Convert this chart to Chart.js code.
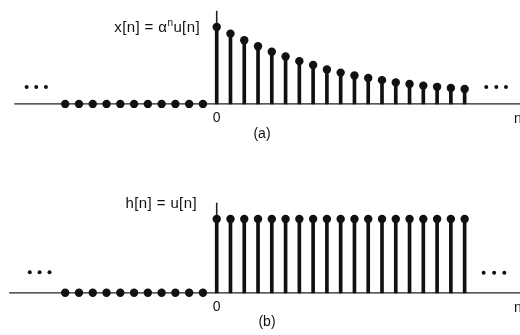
<!DOCTYPE html>
<html>
<head>
  <meta charset="UTF-8">
  <title>x[n] and h[n]</title>
  <script src="https://cdn.jsdelivr.net/npm/chart.js"></script>
  <style>
    body { margin: 0; background: #fff; }
    canvas { position: absolute; left: 0; }
    #chartA { top: 0; }
    #chartB { top: 167px; }
  </style>
  <script>
    // sample indices
    const nNeg = [-11, -10, -9, -8, -7, -6, -5, -4, -3, -2, -1];
    const nPos = [0, 1, 2, 3, 4, 5, 6, 7, 8, 9, 10, 11, 12, 13, 14, 15, 16, 17, 18];

    // x[n] = a^n u[n]
    const xValues = [1, 0.914, 0.827, 0.749, 0.679, 0.617, 0.556, 0.506, 0.448, 0.407,
                     0.370, 0.337, 0.309, 0.280, 0.259, 0.238, 0.222, 0.206, 0.194];
    // h[n] = u[n]
    const hValues = [1, 1, 1, 1, 1, 1, 1, 1, 1, 1, 1, 1, 1, 1, 1, 1, 1, 1, 1];
    const zeros = [0, 0, 0, 0, 0, 0, 0, 0, 0, 0, 0];

    const INK = '#111';
    const FONT = '"Liberation Sans", Arial, sans-serif';

    const annotate = {
      id: 'annotate',
      beforeDatasetsDraw(chart, args, o) {
        const ctx = chart.ctx;
        const xs = chart.scales.x, ys = chart.scales.y;
        const y0 = ys.getPixelForValue(0);
        const x0 = xs.getPixelForValue(0);
        ctx.save();
        ctx.strokeStyle = '#222';
        ctx.lineWidth = 1.2;
        ctx.beginPath();
        ctx.moveTo(xs.getPixelForValue(o.axisFrom), y0);
        ctx.lineTo(chart.width, y0);
        ctx.stroke();
        ctx.lineWidth = 1.6;
        ctx.beginPath();
        ctx.moveTo(x0, y0);
        ctx.lineTo(x0, ys.getPixelForValue(o.axisTop));
        ctx.stroke();
        ctx.restore();
      },
      afterDraw(chart, args, o) {
        const ctx = chart.ctx;
        const xs = chart.scales.x, ys = chart.scales.y;
        ctx.save();
        ctx.fillStyle = INK;

        // continuation dots on both ends
        o.ellipsis.forEach(([n, v]) => {
          ctx.beginPath();
          ctx.arc(xs.getPixelForValue(n), ys.getPixelForValue(v), 2, 0, Math.PI * 2);
          ctx.fill();
        });

        // formula label, right aligned, with superscript parts
        const main = '15px ' + FONT, sup = '10px ' + FONT;
        ctx.letterSpacing = '0.4px';
        let w = 0;
        o.label.forEach(([t, s]) => { ctx.font = s ? sup : main; w += ctx.measureText(t).width; });
        let x = o.labelRight - w;
        ctx.textBaseline = 'alphabetic';
        ctx.textAlign = 'left';
        o.label.forEach(([t, s]) => {
          ctx.font = s ? sup : main;
          ctx.fillText(t, x, o.labelY - (s ? 6 : 0));
          x += ctx.measureText(t).width;
        });
        ctx.letterSpacing = '0px';

        ctx.font = '14px ' + FONT;
        ctx.textBaseline = 'middle';
        const y0 = ys.getPixelForValue(0);
        ctx.textAlign = 'center';
        ctx.fillText('0', xs.getPixelForValue(0), y0 + 14.5);
        ctx.fillText(o.caption, o.captionX, o.captionY);
        ctx.textAlign = 'left';
        ctx.fillText('n', 514, y0 + 15);
        ctx.restore();
      }
    };

    function stemChart(id, values, opts) {
      const stems = nPos.map((n, i) => ({ x: n, y: values[i] }));
      const heads = nNeg.map((n, i) => ({ x: n, y: zeros[i] })).concat(stems);
      return new Chart(document.getElementById(id), {
        type: 'bar',
        data: {
          datasets: [
            {
              type: 'scatter',
              data: heads,
              pointRadius: 4.2,
              pointBackgroundColor: INK,
              pointBorderWidth: 0,
              order: 0
            },
            {
              data: stems,
              backgroundColor: INK,
              barThickness: 3,
              order: 1
            }
          ]
        },
        options: {
          responsive: false,
          animation: false,
          layout: { padding: 0 },
          plugins: { legend: { display: false }, tooltip: { enabled: false }, annotate: opts },
          scales: {
            x: { type: 'linear', offset: false, min: -216 / 14, max: 304 / 14, display: false },
            y: { min: opts.yMin, max: opts.yMax, display: false }
          }
        },
        plugins: [annotate]
      });
    }

    window.onload = () => {
      stemChart('chartA', xValues, {
        yMin: -62 / 81, yMax: 105 / 81, axisFrom: -14.7, axisTop: 1.21,
        label: [['x[n] = α', false], ['n', true], ['u[n]', false]],
        labelRight: 200, labelY: 32,
        caption: '(a)', captionX: 262, captionY: 134,
        ellipsis: [[-13.8, 0.22], [-13.1, 0.22], [-12.4, 0.22], [19.57, 0.22], [20.3, 0.22], [21.0, 0.22]]
      });
      stemChart('chartB', hValues, {
        yMin: -40 / 77.7, yMax: 128 / 77.7, axisFrom: -15.07, axisTop: 1.22,
        label: [['h[n] = u[n]', false]],
        labelRight: 197, labelY: 41.3,
        caption: '(b)', captionX: 267, captionY: 155,
        ellipsis: [[-13.57, 0.28], [-12.86, 0.28], [-12.14, 0.28], [19.38, 0.27], [20.14, 0.27], [20.88, 0.27]]
      });
    };
  </script>
</head>
<body>
  <canvas id="chartA" width="520" height="167"></canvas>
  <canvas id="chartB" width="520" height="168"></canvas>
</body>
</html>
